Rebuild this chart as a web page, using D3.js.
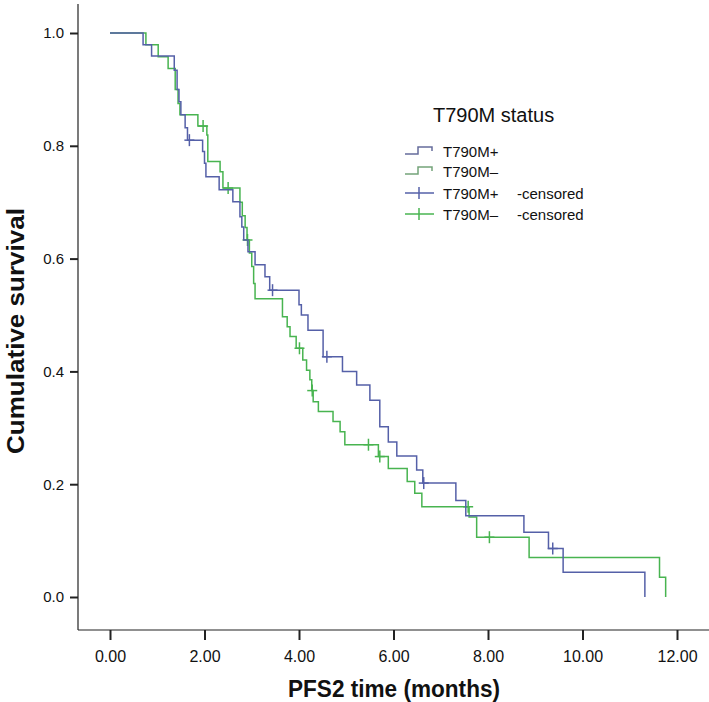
<!DOCTYPE html>
<html>
<head>
<meta charset="utf-8">
<script src="https://cdn.jsdelivr.net/npm/d3@7"></script>
<style>
  html, body { margin: 0; padding: 0; background: #fff; }
  svg { display: block; }
  text { font-family: "Liberation Sans", Arial, sans-serif; fill: #111; }
</style>
</head>
<body>
<svg id="chart" width="709" height="702"></svg>
<script>
// ---- data ----
const xTicks = [0, 2, 4, 6, 8, 10, 12];
const yTicks = [0, 0.2, 0.4, 0.6, 0.8, 1.0];
const seriesNames = ["T790M+", "T790M\u2013"];
const legendLabels = ["T790M+", "T790M\u2013", "T790M+ -censored", "T790M\u2013 -censored"];
const legendTitle = "T790M status";
const xTitle = "PFS2 time (months)";
const yTitle = "Cumulative survival";

// T790M+ : event times and survival after each step
const posTimes = [0.70, 0.88, 1.36, 1.42, 1.46, 1.50, 1.59, 1.64, 1.96, 2.00, 2.03, 2.31, 2.60, 2.75, 2.79, 2.83, 2.92, 3.07, 3.28, 3.38, 4.00, 4.05, 4.19, 4.51, 4.92, 5.22, 5.50, 5.71, 5.89, 6.07, 6.49, 6.62, 7.32, 7.53, 8.76, 9.28, 9.59, 11.32];
const posSurv  = [0.979, 0.959, 0.934, 0.900, 0.878, 0.855, 0.832, 0.810, 0.790, 0.769, 0.745, 0.722, 0.701, 0.674, 0.656, 0.633, 0.612, 0.589, 0.568, 0.544, 0.518, 0.500, 0.473, 0.426, 0.400, 0.376, 0.349, 0.302, 0.275, 0.250, 0.225, 0.202, 0.171, 0.144, 0.115, 0.086, 0.044, 0];
const posCensored = [1.68, 3.44, 4.59, 6.64, 9.37];

// T790M- : event times and survival after each step
const negTimes = [0.76, 1.02, 1.23, 1.38, 1.44, 1.48, 1.86, 2.05, 2.07, 2.33, 2.39, 2.75, 2.80, 2.86, 2.90, 2.95, 3.00, 3.04, 3.07, 3.65, 3.75, 3.81, 3.94, 4.08, 4.16, 4.23, 4.27, 4.30, 4.41, 4.72, 4.87, 4.97, 5.68, 5.89, 6.29, 6.45, 6.60, 7.60, 7.76, 8.87, 11.63, 11.76];
const negSurv  = [0.979, 0.958, 0.937, 0.900, 0.875, 0.855, 0.835, 0.819, 0.772, 0.754, 0.725, 0.700, 0.676, 0.655, 0.633, 0.610, 0.586, 0.556, 0.529, 0.497, 0.479, 0.462, 0.441, 0.420, 0.402, 0.385, 0.366, 0.346, 0.329, 0.311, 0.293, 0.270, 0.249, 0.228, 0.205, 0.184, 0.160, 0.142, 0.106, 0.070, 0.035, 0];
const negCensored = [1.97, 2.50, 2.91, 4.01, 4.28, 5.47, 5.71, 7.58, 8.03];

const colors = ["#5560a8", "#48b450"];
const legendIconColors = ["#666c9c", "#74a47a"];

// ---- drawing ----
const svg = d3.select("#chart");
const x = d3.scaleLinear().domain([0, 12]).range([110, 677]);
const y = d3.scaleLinear().domain([0, 1]).range([597, 33]);

const axisLeftX = 78, axisBottomY = 630;

// axis lines
svg.append("line").attr("x1", axisLeftX).attr("x2", axisLeftX)
  .attr("y1", 4).attr("y2", axisBottomY).attr("stroke", "#222").attr("stroke-width", 1.2);
svg.append("line").attr("x1", axisLeftX).attr("x2", 709)
  .attr("y1", axisBottomY).attr("y2", axisBottomY).attr("stroke", "#222").attr("stroke-width", 1.2);

// y axis
const yAxis = d3.axisLeft(y).tickValues(yTicks).tickFormat(d3.format(".1f")).tickSize(8).tickPadding(6);
const gy = svg.append("g").attr("transform", `translate(${axisLeftX},0)`).call(yAxis);
gy.select(".domain").remove();
gy.selectAll(".tick line").attr("stroke", "#222").attr("stroke-width", 2);
gy.selectAll(".tick text").style("font-size", "15px").attr("fill", "#111")
  .style("font-family", "'Liberation Sans', Arial, sans-serif");

// x axis
const xAxis = d3.axisBottom(x).tickValues(xTicks).tickFormat(d3.format(".2f")).tickSize(10).tickPadding(11);
const gx = svg.append("g").attr("transform", `translate(0,${axisBottomY})`).call(xAxis);
gx.select(".domain").remove();
gx.selectAll(".tick line").attr("stroke", "#222").attr("stroke-width", 2);
gx.selectAll(".tick text").style("font-size", "16px").attr("fill", "#111")
  .style("font-family", "'Liberation Sans', Arial, sans-serif");

// titles
svg.append("text").attr("x", 394).attr("y", 697).attr("text-anchor", "middle")
  .attr("textLength", 212).attr("lengthAdjust", "spacingAndGlyphs")
  .style("font-size", "23px").style("font-weight", "bold").text(xTitle);
svg.append("text").attr("transform", "translate(24,331) rotate(-90)").attr("text-anchor", "middle")
  .attr("textLength", 246).attr("lengthAdjust", "spacingAndGlyphs")
  .style("font-size", "23px").style("font-weight", "bold").text(yTitle);

// curves
const line = d3.line().x(d => x(d[0])).y(d => y(d[1])).curve(d3.curveStepAfter);
function stepData(times, surv) {
  return [[0, 1]].concat(times.map((t, i) => [t, surv[i]]));
}
function survAt(times, surv, t) {
  let s = 1;
  for (let i = 0; i < times.length; i++) { if (times[i] <= t) s = surv[i]; }
  return s;
}
const series = [
  { times: posTimes, surv: posSurv, cens: posCensored, color: colors[0] },
  { times: negTimes, surv: negSurv, cens: negCensored, color: colors[1] }
];
[series[1], series[0]].forEach(s => {
  svg.append("path").datum(stepData(s.times, s.surv))
    .attr("d", line).attr("fill", "none").attr("stroke", s.color)
    .attr("stroke-width", 1.5);
  const g = svg.append("g");
  s.cens.forEach(t => {
    const cx = x(t), cy = y(survAt(s.times, s.surv, t));
    g.append("line").attr("x1", cx - 5).attr("x2", cx + 5).attr("y1", cy).attr("y2", cy)
      .attr("stroke", s.color).attr("stroke-width", 1.5);
    g.append("line").attr("x1", cx).attr("x2", cx).attr("y1", cy - 6).attr("y2", cy + 6)
      .attr("stroke", s.color).attr("stroke-width", 1.5);
  });
});

// legend
const lg = svg.append("g");
lg.append("text").attr("x", 433).attr("y", 122).style("font-size", "20px").text(legendTitle);
const rowsY = [151, 171, 193, 214];
legendLabels.forEach((lab, i) => {
  const ry = rowsY[i];
  if (i < 2) {
    const c = legendIconColors[i];
    lg.append("path")
      .attr("d", `M405,${ry + 3}H418V${ry - 4}H432V${ry}`)
      .attr("fill", "none").attr("stroke", c).attr("stroke-width", 1.5);
  } else {
    const c = colors[i - 2];
    lg.append("line").attr("x1", 405).attr("x2", 434).attr("y1", ry).attr("y2", ry)
      .attr("stroke", c).attr("stroke-width", 1.5);
    lg.append("line").attr("x1", 419).attr("x2", 419).attr("y1", ry - 6).attr("y2", ry + 6)
      .attr("stroke", c).attr("stroke-width", 1.5);
  }
  const t = lg.append("text").attr("x", 443).attr("y", ry + 5.5).style("font-size", "15px");
  const parts = lab.split(" -");
  t.append("tspan").text(parts[0]);
  if (parts.length > 1) {
    t.append("tspan").attr("x", 517).text("-" + parts[1]);
  }
});
</script>
</body>
</html>
